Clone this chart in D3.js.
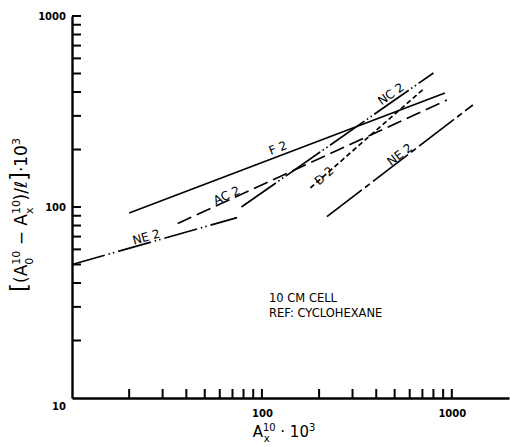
<!DOCTYPE html>
<html>
<head>
<meta charset="utf-8">
<script src="https://cdn.jsdelivr.net/npm/d3@7"></script>
<style>
	body { margin: 0; background: #fff; }
	svg { display: block; }
	text { font-family: 'DejaVu Sans', sans-serif; fill: #000; }
	.axis text { font-size: 10px; font-weight: bold; }
	path.curve { fill: none; stroke: #000; stroke-width: 1.7; }
</style>
</head>
<body>
<div class="chart"></div>
<script>
// values (start and end of each straight line)
const lineNames = ['NE', 'AC', 'F', 'NC', 'D', 'NE']
const xStart = [10, 36, 20, 78, 180, 220]
const yStart = [50, 82, 93, 100, 126, 89]
const xEnd = [74, 940, 920, 800, 720, 1290]
const yEnd = [88, 363, 395, 503, 420, 342]

const xTicks = [20, 30, 40, 50, 60, 70, 80, 90, 100, 200, 300, 400, 500, 600, 700, 800, 900, 1000]
const yTicks = [20, 30, 40, 50, 60, 70, 80, 90, 100, 200, 300, 400, 500, 600, 700, 800, 900, 1000]
const tickLabels = [10, 100, 1000]
const noteLines = ['10 CM CELL', 'REF: CYCLOHEXANE']

// styling per line, same order as lineNames
const dashes = ['34,4,1.5,3,1.5,4', '15,6', null, '42,3,1.5,3,1.5,3', '5,3', '44,4,6,4']
const labelAt = [.46, .19, .48, .8, .12, .52]
const labelLift = [2, 1, 4, 3, -4, 1]

const W = 510, H = 447
const x = d3.scaleLog().domain([10, 2000]).range([72, 509])
const y = d3.scaleLog().domain([10, 1000]).range([398, 16])

const svg = d3.select('div.chart').append('svg')
	.attr('width', W)
	.attr('height', H)

const fmt = d => tickLabels.includes(d) ? d : ''

// inward tick marks
svg.append('g')
	.selectAll('rect')
	.data(xTicks)
	.join('rect')
	.attr('x', d => x(d) - 1)
	.attr('y', y(10) - 9)
	.attr('width', 2)
	.attr('height', 9)
	.attr('fill', '#000')

svg.append('g')
	.selectAll('rect')
	.data(yTicks)
	.join('rect')
	.attr('x', x(10))
	.attr('y', d => y(d) - 1)
	.attr('width', 9)
	.attr('height', 2)
	.attr('fill', '#000')

const gx = svg.append('g')
	.attr('class', 'axis')
	.attr('transform', `translate(0,${y(10)})`)
	.call(d3.axisBottom(x).tickValues(tickLabels.filter(d => d > 10)).tickSize(0).tickPadding(10).tickFormat(fmt))

const gy = svg.append('g')
	.attr('class', 'axis')
	.attr('transform', `translate(${x(10)},0)`)
	.call(d3.axisLeft(y).tickValues(tickLabels).tickSize(0).tickPadding(6).tickFormat(fmt))

svg.selectAll('.axis .domain')
	.attr('stroke', '#000')
	.attr('stroke-width', 2.4)

gy.selectAll('.tick').filter(d => d === 10)
	.select('text')
	.attr('dy', '1.1em')
gx.selectAll('.tick text').attr('dy', '0.9em')

const lines = lineNames.map((n, i) => ({
	name: n,
	pts: [[xStart[i], yStart[i]], [xEnd[i], yEnd[i]]],
	dash: dashes[i],
	t: labelAt[i],
	lift: labelLift[i]
}))

const line = d3.line().x(d => x(d[0])).y(d => y(d[1]))

svg.selectAll('path.curve')
	.data(lines)
	.join('path')
	.attr('class', 'curve')
	.attr('d', d => line(d.pts))
	.attr('stroke-dasharray', d => d.dash)

svg.selectAll('text.name')
	.data(lines)
	.join('text')
	.attr('class', 'name')
	.attr('font-size', 12)
	.attr('text-anchor', 'middle')
	.attr('transform', d => {
		const x0 = x(d.pts[0][0]), y0 = y(d.pts[0][1])
		const x1 = x(d.pts[1][0]), y1 = y(d.pts[1][1])
		const a = Math.atan2(y1 - y0, x1 - x0) * 180 / Math.PI
		const px = x0 + (x1 - x0) * d.t, py = y0 + (y1 - y0) * d.t
		return `translate(${px},${py}) rotate(${a}) translate(0,${-d.lift})`
	})
	.text(d => `${d.name} 2`)

svg.append('g')
	.selectAll('text')
	.data(noteLines)
	.join('text')
	.attr('x', 269)
	.attr('y', (d, i) => 302 + i * 15)
	.attr('font-size', 11.5)
	.text(d => d)

// axis titles
const yl = svg.append('text')
	.attr('transform', `translate(27,215) rotate(-90)`)
	.attr('text-anchor', 'middle')
	.attr('font-size', 17)
yl.append('tspan').attr('font-size', 23).text('[')
yl.append('tspan').text('(A')
yl.append('tspan').attr('font-size', 11).attr('dy', -7).text('10')
yl.append('tspan').attr('font-size', 11).attr('dx', -14).attr('dy', 13).text('0')
yl.append('tspan').attr('dx', 7).attr('dy', -6).text(' − A')
yl.append('tspan').attr('font-size', 11).attr('dy', -7).text('10')
yl.append('tspan').attr('font-size', 11).attr('dx', -14).attr('dy', 13).text('x')
yl.append('tspan').attr('dx', 7).attr('dy', -6).text(')/ℓ')
yl.append('tspan').attr('font-size', 23).text(']')
yl.append('tspan').text('·10')
yl.append('tspan').attr('font-size', 11).attr('dy', -7).text('3')

const xl = svg.append('text')
	.attr('x', 284)
	.attr('y', 437)
	.attr('text-anchor', 'middle')
	.attr('font-size', 15)
xl.append('tspan').text('A')
xl.append('tspan').attr('font-size', 10).attr('dy', -6).text('10')
xl.append('tspan').attr('font-size', 10).attr('dx', -12).attr('dy', 11).text('x')
xl.append('tspan').attr('dx', 6).attr('dy', -5).text('  ·  10')
xl.append('tspan').attr('font-size', 10).attr('dy', -6).text('3')
</script>
</body>
</html>
